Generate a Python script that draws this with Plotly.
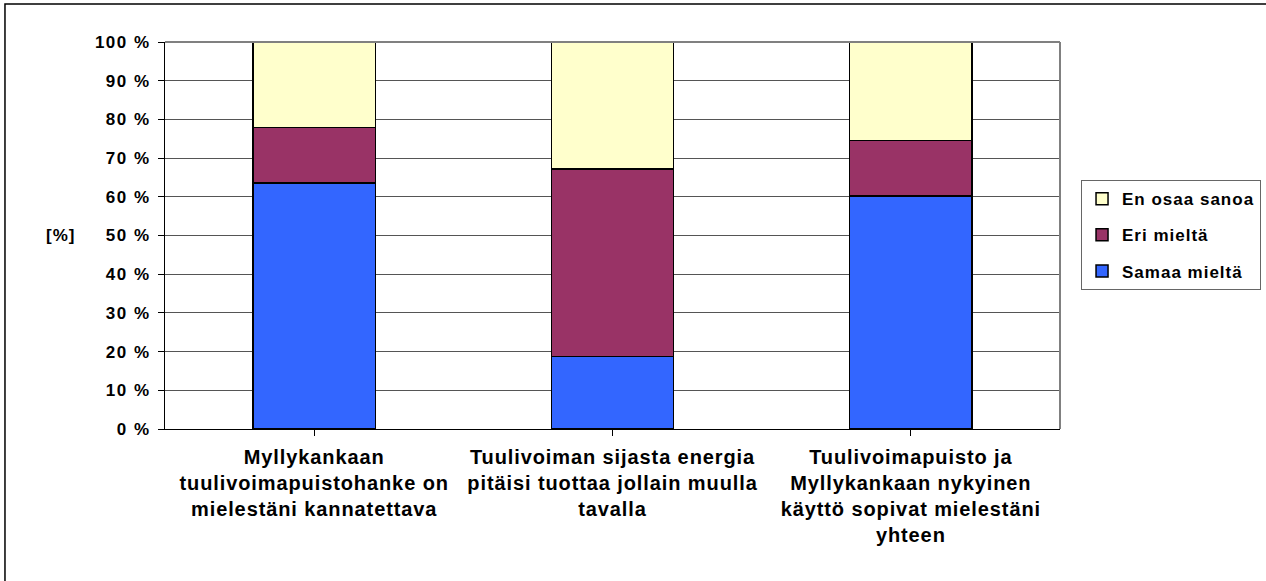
import plotly.graph_objects as go

# survey statements (x categories)
categories = [
    "Myllykankaan<br>tuulivoimapuistohanke on<br>mielestäni kannatettava",
    "Tuulivoiman sijasta energia<br>pitäisi tuottaa jollain muulla<br>tavalla",
    "Tuulivoimapuisto ja<br>Myllykankaan nykyinen<br>käyttö sopivat mielestäni<br>yhteen",
]

# shares in percent
samaa_mielta = [63.6, 18.7, 60.2]
eri_mielta = [14.3, 48.5, 14.3]
en_osaa_sanoa = [22.1, 32.8, 25.5]

y_ticks = [0, 10, 20, 30, 40, 50, 60, 70, 80, 90, 100]
y_ticktext = [f"{v} %" for v in y_ticks]

FONT = "Liberation Sans, Arial, sans-serif"


def spaced(txt, px):
    # emulate the wide letter spacing of the original chart (bold)
    parts = txt.split("<br>")
    return "<br>".join(f'<b><span style="letter-spacing:{px}px">{p}</span></b>' for p in parts)


fig = go.Figure()

series = [
    ("Samaa mieltä", samaa_mielta, "#3366FF", 3),
    ("Eri mieltä", eri_mielta, "#993366", 2),
    ("En osaa sanoa", en_osaa_sanoa, "#FFFFCC", 1),
]
for name, vals, color, rank in series:
    fig.add_trace(go.Bar(
        x=list(range(len(categories))),
        y=vals,
        name=spaced(name, 1),
        legendgroup=name,
        legendrank=rank,
        marker=dict(color=color, line=dict(color="black", width=1.5)),
    ))

fig.update_layout(
    barmode="stack",
    bargap=0.59,
    width=1266,
    height=581,
    margin=dict(l=165, r=206, t=42, b=152, autoexpand=False),
    paper_bgcolor="white",
    plot_bgcolor="white",
    font=dict(family=FONT, size=17, color="black"),
    legend=dict(
        x=1.0235, y=0.643, xanchor="left", yanchor="top",
        traceorder="grouped",
        tracegroupgap=11,
        bordercolor="#666666", borderwidth=1,
        font=dict(family=FONT, size=17, color="black"),
    ),
    xaxis=dict(
        tickmode="array",
        tickvals=list(range(len(categories))),
        ticktext=[spaced(c, 0.9) for c in categories],
        range=[-0.5, 2.5],
        automargin=False,
        showline=True, linecolor="black", linewidth=1,
        ticks="outside", ticklen=6, tickcolor="black",
        ticklabelstandoff=4,
        showgrid=False,
        tickfont=dict(family=FONT, size=20),
    ),
    yaxis=dict(
        range=[0, 100],
        automargin=False,
        tickmode="array",
        tickvals=y_ticks,
        ticktext=[spaced(t, 1.5) for t in y_ticktext],
        showline=True, linecolor="black", linewidth=1,
        ticks="outside", ticklen=6, tickcolor="black",
        ticklabelstandoff=4,
        showgrid=True, gridcolor="#555555", gridwidth=1,
        tickfont=dict(family=FONT, size=17),
    ),
)

# grey plot-area border on top and right
fig.add_shape(type="line", xref="paper", yref="paper", x0=0, x1=1, y0=1, y1=1,
              line=dict(color="#808080", width=2))
fig.add_shape(type="line", xref="paper", yref="paper", x0=1, x1=1, y0=0, y1=1,
              line=dict(color="#808080", width=2))

# outer chart frame
fig.add_shape(type="rect", xref="paper", yref="paper",
              x0=-0.1788, x1=1.235, y0=-0.41, y1=1.098,
              line=dict(color="black", width=1.5), fillcolor="rgba(0,0,0,0)")

fig.add_annotation(text=spaced("[%]", 1), xref="paper", yref="paper",
                   x=-0.135, y=0.5, showarrow=False,
                   font=dict(family=FONT, size=17))

fig.write_html("out.html", config={"displayModeBar": False},
               post_script="document.body.style.margin='0';")
